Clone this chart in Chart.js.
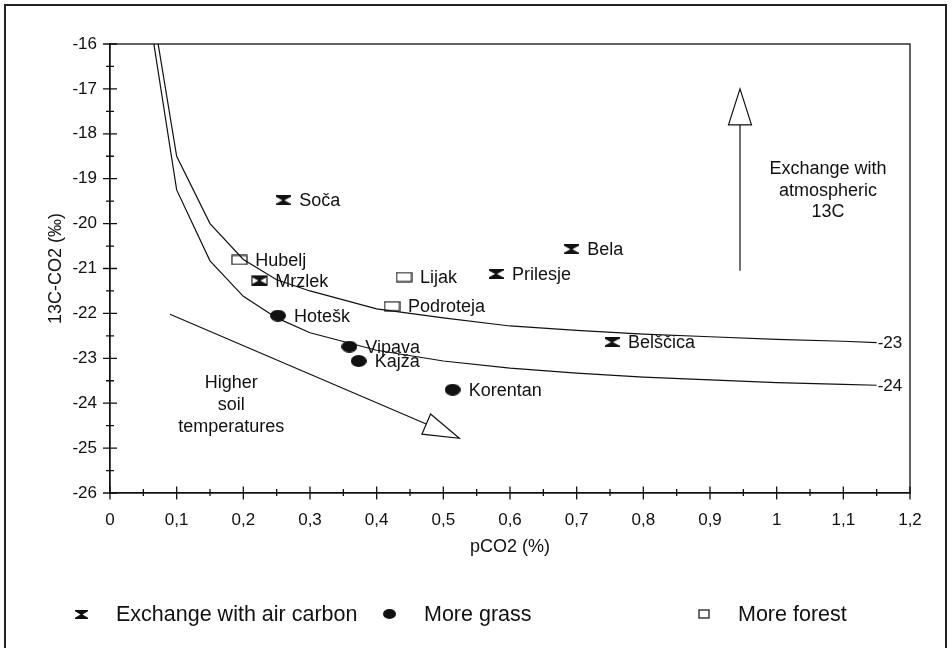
<!DOCTYPE html>
<html>
<head>
<meta charset="utf-8">
<script src="https://cdn.jsdelivr.net/npm/chart.js@4.4.1/dist/chart.umd.min.js"></script>
<style>
    html, body { margin: 0; padding: 0; background: #ffffff; }
    #wrap { width: 952px; height: 648px; }
</style>
</head>
<body>
<div id="wrap"><canvas id="chart" width="952" height="648"></canvas></div>
<script>

/* =========================
   DATA
========================= */

const xTickValues = [0, 0.1, 0.2, 0.3, 0.4, 0.5, 0.6, 0.7, 0.8, 0.9, 1, 1.1, 1.2];
const xTickLabels = ['0', '0,1', '0,2', '0,3', '0,4', '0,5', '0,6', '0,7', '0,8', '0,9', '1', '1,1', '1,2'];
const yTickValues = [-26, -25, -24, -23, -22, -21, -20, -19, -18, -17, -16];

const curveX = [0.05, 0.1, 0.15, 0.2, 0.25, 0.3, 0.4, 0.5, 0.6, 0.7, 0.8, 0.9, 1.0, 1.1, 1.15];
const curve23 = [-14.0, -18.5, -20.0, -20.8, -21.25, -21.5, -21.9, -22.1, -22.28, -22.38, -22.46, -22.52, -22.58, -22.62, -22.65];
const curve24 = [-14.5, -19.25, -20.83, -21.62, -22.1, -22.43, -22.82, -23.06, -23.22, -23.33, -23.42, -23.48, -23.54, -23.58, -23.6];
const curveLabels = ['-23', '-24'];

const exchangeNames = ['Soča', 'Mrzlek', 'Prilesje', 'Bela', 'Belščica'];
const exchangeX = [0.26, 0.224, 0.579, 0.692, 0.753];
const exchangeY = [-19.48, -21.27, -21.12, -20.57, -22.64];

const grassNames = ['Hotešk', 'Vipava', 'Kajža', 'Korentan'];
const grassX = [0.252, 0.359, 0.373, 0.514];
const grassY = [-22.05, -22.74, -23.06, -23.70];

const forestNames = ['Hubelj', 'Lijak', 'Podroteja', ''];
const forestX = [0.194, 0.441, 0.423, 0.224];
const forestY = [-20.81, -21.19, -21.84, -21.27];

const legendLabels = ['Exchange with air carbon', 'More grass', 'More forest'];

/* =========================
   MARKERS
========================= */

const FONT = "'Liberation Sans', Arial, sans-serif";
Chart.defaults.font.family = FONT;
Chart.defaults.color = '#111111';

function makeCanvas(w, h) {
    const c = document.createElement('canvas');
    c.width = w;
    c.height = h;
    return c;
}

function hourglass(w, h) {
    const c = makeCanvas(w, h);
    const g = c.getContext('2d');
    g.fillStyle = '#111111';
    g.beginPath();
    g.moveTo(0, 0);
    g.lineTo(w, 0);
    g.lineTo(w, h * 0.15);
    g.lineTo(w / 2 + 1, h / 2);
    g.lineTo(w, h * 0.85);
    g.lineTo(w, h);
    g.lineTo(0, h);
    g.lineTo(0, h * 0.85);
    g.lineTo(w / 2 - 1, h / 2);
    g.lineTo(0, h * 0.15);
    g.closePath();
    g.fill();
    return c;
}

function ellipse(w, h) {
    const c = makeCanvas(w, h);
    const g = c.getContext('2d');
    g.fillStyle = '#111111';
    g.beginPath();
    g.ellipse(w / 2, h / 2, w / 2, h / 2, 0, 0, Math.PI * 2);
    g.fill();
    return c;
}

function box(w, h) {
    const c = makeCanvas(w, h);
    const g = c.getContext('2d');
    g.strokeStyle = '#222222';
    g.lineWidth = 1.3;
    g.fillStyle = '#ffffff';
    g.fillRect(1, 1, w - 2, h - 2);
    g.strokeRect(1, 1, w - 2, h - 2);
    return c;
}

const markers = {
    exchange: hourglass(15, 10),
    grass: ellipse(16, 12),
    forest: box(17, 11)
};

const legendMarkers = [hourglass(13, 9), ellipse(13, 10), box(12, 10)];

function toPoints(xs, ys) {
    return xs.map((x, i) => ({ x, y: ys[i] }));
}

/* =========================
   DRAWING PLUGIN
========================= */

function arrow(ctx, x0, y0, x1, y1, headLen, headHalf) {
    const ang = Math.atan2(y1 - y0, x1 - x0);
    const bx = x1 - headLen * Math.cos(ang);
    const by = y1 - headLen * Math.sin(ang);
    ctx.beginPath();
    ctx.moveTo(x0, y0);
    ctx.lineTo(bx, by);
    ctx.stroke();
    ctx.beginPath();
    ctx.moveTo(x1, y1);
    ctx.lineTo(bx + headHalf * Math.sin(ang), by - headHalf * Math.cos(ang));
    ctx.lineTo(bx - headHalf * Math.sin(ang), by + headHalf * Math.cos(ang));
    ctx.closePath();
    ctx.fillStyle = '#ffffff';
    ctx.fill();
    ctx.stroke();
}

const sketchPlugin = {
    id: 'sketch',

    beforeDraw(chart) {
        const ctx = chart.ctx;
        ctx.save();
        ctx.fillStyle = '#ffffff';
        ctx.fillRect(0, 0, chart.width, chart.height);
        ctx.strokeStyle = '#222222';
        ctx.lineWidth = 2;
        ctx.strokeRect(5, 5, 941, 700);
        ctx.restore();
    },

    afterDatasetsDraw(chart) {
        const ctx = chart.ctx;
        const { x: xs, y: ys } = chart.scales;
        ctx.save();

        // site names
        ctx.font = '18px ' + FONT;
        ctx.fillStyle = '#111111';
        ctx.textBaseline = 'middle';
        ctx.textAlign = 'left';
        chart.data.datasets.forEach((ds, di) => {
            if (!ds.names) return;
            chart.getDatasetMeta(di).data.forEach((pt, i) => {
                if (ds.names[i]) ctx.fillText(ds.names[i], pt.x + 16, pt.y + 1);
            });
        });

        // curve end labels
        ctx.font = '17px ' + FONT;
        [0, 1].forEach(di => {
            const pts = chart.getDatasetMeta(di).data;
            const last = pts[pts.length - 1];
            ctx.fillText(curveLabels[di], last.x + 1, last.y + 1);
        });

        // arrows
        ctx.strokeStyle = '#111111';
        ctx.lineWidth = 1.2;
        arrow(ctx,
            xs.getPixelForValue(0.09), ys.getPixelForValue(-22.02),
            xs.getPixelForValue(0.524), ys.getPixelForValue(-24.78), 36, 11);
        arrow(ctx,
            xs.getPixelForValue(0.945), ys.getPixelForValue(-21.05),
            xs.getPixelForValue(0.945), ys.getPixelForValue(-17.0), 36, 11.5);

        // annotation texts
        ctx.font = '18px ' + FONT;
        ctx.fillStyle = '#111111';
        ctx.textAlign = 'center';
        const lh = 21.7;
        const cx1 = xs.getPixelForValue(0.182), cy1 = ys.getPixelForValue(-24.04);
        ['Higher', 'soil', 'temperatures'].forEach((t, i) => ctx.fillText(t, cx1, cy1 + (i - 1) * lh));
        const cx2 = xs.getPixelForValue(1.077), cy2 = ys.getPixelForValue(-19.27);
        ['Exchange with', 'atmospheric', '13C'].forEach((t, i) => ctx.fillText(t, cx2, cy2 + (i - 1) * lh));

        ctx.restore();
    },

    afterDraw(chart) {
        const ctx = chart.ctx;
        const a = chart.chartArea;
        const { x: xs, y: ys } = chart.scales;
        ctx.save();
        ctx.strokeStyle = '#111111';
        ctx.lineWidth = 1.3;

        // plot box
        ctx.strokeRect(a.left, a.top, a.right - a.left, a.bottom - a.top);

        // tick marks crossing the axes
        ctx.beginPath();
        xTickValues.forEach((v, i) => {
            const px = xs.getPixelForValue(v);
            ctx.moveTo(px, a.bottom - 6.5);
            ctx.lineTo(px, a.bottom + 6.5);
            if (i < xTickValues.length - 1) {
                const mx = xs.getPixelForValue((v + xTickValues[i + 1]) / 2);
                ctx.moveTo(mx, a.bottom - 4);
                ctx.lineTo(mx, a.bottom + 3);
            }
        });
        yTickValues.forEach((v, i) => {
            const py = ys.getPixelForValue(v);
            ctx.moveTo(a.left - 7, py);
            ctx.lineTo(a.left + 7, py);
            if (i < yTickValues.length - 1) {
                const my = ys.getPixelForValue((v + yTickValues[i + 1]) / 2);
                ctx.moveTo(a.left - 4, my);
                ctx.lineTo(a.left + 4, my);
            }
        });
        ctx.stroke();

        // legend
        const legendY = 614;
        const markX = [81, 389, 704];
        const textX = [116, 424, 738];
        ctx.font = '21.5px ' + FONT;
        ctx.fillStyle = '#111111';
        ctx.textBaseline = 'middle';
        ctx.textAlign = 'left';
        legendLabels.forEach((label, i) => {
            const m = legendMarkers[i];
            ctx.drawImage(m, Math.round(markX[i] - m.width / 2), Math.round(legendY - m.height / 2));
            ctx.fillText(label, textX[i], legendY + 1);
        });

        ctx.restore();
    }
};

/* =========================
   CHART
========================= */

const lineStyle = {
    type: 'line',
    borderColor: '#111111',
    borderWidth: 1.2,
    pointRadius: 0,
    tension: 0,
    fill: false
};

const chart = new Chart(document.getElementById('chart').getContext('2d'), {

    type: 'scatter',

    data: {
        datasets: [
            { ...lineStyle, label: curveLabels[0], data: toPoints(curveX, curve23) },
            { ...lineStyle, label: curveLabels[1], data: toPoints(curveX, curve24) },
            {
                label: legendLabels[0],
                data: toPoints(exchangeX, exchangeY),
                names: exchangeNames,
                pointStyle: markers.exchange,
                pointRadius: 8
            },
            {
                label: legendLabels[1],
                data: toPoints(grassX, grassY),
                names: grassNames,
                pointStyle: markers.grass,
                pointRadius: 8
            },
            {
                label: legendLabels[2],
                data: toPoints(forestX, forestY),
                names: forestNames,
                pointStyle: markers.forest,
                pointRadius: 8
            }
        ]
    },

    options: {
        responsive: false,
        animation: false,
        layout: {
            padding: { top: 44, right: 42, left: 0, bottom: 85 }
        },
        plugins: {
            legend: { display: false },
            tooltip: { enabled: false }
        },
        scales: {
            x: {
                type: 'linear',
                min: 0,
                max: 1.2,
                afterBuildTicks: scale => {
                    scale.ticks = xTickValues.map(v => ({ value: v }));
                },
                afterFit: scale => { scale.height = 70; },
                grid: { display: false, drawTicks: false },
                border: { display: true, color: '#111111', width: 1.3 },
                ticks: {
                    padding: 17,
                    font: { size: 17 },
                    color: '#111111',
                    maxRotation: 0,
                    autoSkip: false,
                    callback: (v, i) => xTickLabels[i]
                },
                title: {
                    display: true,
                    text: 'pCO2 (%)',
                    font: { size: 18 },
                    color: '#111111',
                    padding: { top: 0, bottom: 5 }
                }
            },
            y: {
                type: 'linear',
                min: -26,
                max: -16,
                afterBuildTicks: scale => {
                    scale.ticks = yTickValues.map(v => ({ value: v }));
                },
                afterFit: scale => { scale.width = 110; },
                grid: { display: false, drawTicks: false },
                border: { display: true, color: '#111111', width: 1.3 },
                ticks: {
                    padding: 13,
                    font: { size: 17 },
                    color: '#111111',
                    callback: v => String(v)
                },
                title: {
                    display: true,
                    text: '13C-CO2 (‰)',
                    font: { size: 18 },
                    color: '#111111',
                    padding: { top: 45, bottom: 0 }
                }
            }
        }
    },

    plugins: [sketchPlugin]
});
</script>
</body>
</html>
